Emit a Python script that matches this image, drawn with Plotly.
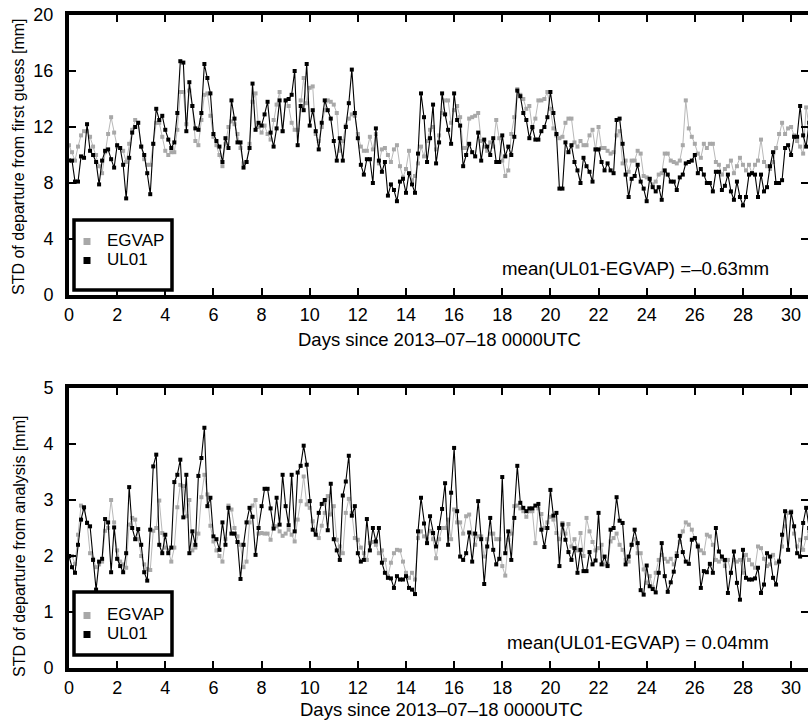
import plotly.graph_objects as go

# ---------------- data (3-hourly values, 8 per day) ----------------
samples_per_day = 8

fg_egvap = [
    10.7, 10.2, 9.6, 10.6, 11.4, 11.7, 11.7, 11.3,
    10.6, 10.0, 9.2, 8.7, 10.2, 11.5, 12.7, 11.6,
    10.6, 10.5, 10.3, 9.5, 10.8, 11.8, 12.5, 12.3,
    10.6, 9.7, 9.3, 9.3, 10.8, 12.3, 12.3, 11.3,
    10.3, 10.0, 10.2, 10.2, 11.8, 14.5, 14.5, 12.2,
    14.6, 13.5, 11.0, 10.7, 12.5, 14.3, 14.4, 12.8,
    11.3, 10.7, 10.0, 9.2, 10.8, 12.0, 12.4, 12.2,
    11.5, 10.5, 9.4, 9.5, 10.8, 13.8, 14.4, 12.0,
    11.6, 12.1, 11.5, 11.1, 12.5, 13.6, 14.5, 11.7,
    13.9, 13.5, 12.3, 11.8, 11.8, 13.9, 15.5, 13.7,
    14.8, 14.9, 11.5, 11.0, 12.0, 13.2, 13.9, 13.8,
    13.6, 13.0, 10.3, 11.0, 12.1, 12.6, 12.9, 12.8,
    11.5, 10.6, 10.3, 10.3, 11.3, 10.4, 11.5, 9.4,
    10.4, 10.5, 10.0, 9.5, 10.4, 10.7, 9.2, 8.4,
    9.0, 10.3, 8.2, 8.5, 9.4, 10.6, 9.9, 11.0,
    11.8, 12.0, 10.4, 11.4, 13.0, 13.9, 13.9, 12.3,
    13.2, 13.5, 12.7, 10.5, 10.5, 12.6, 12.7, 12.8,
    13.0, 11.0, 10.6, 10.3, 10.9, 10.6, 12.5, 11.2,
    9.6, 8.5, 8.9, 11.5, 12.7, 14.7, 14.3, 14.0,
    13.3, 13.5, 11.9, 12.6, 13.9, 13.9, 14.0, 14.5,
    13.3, 11.9, 11.4, 11.2, 11.3, 12.3, 12.6, 12.6,
    10.9, 10.6, 11.0, 10.7, 10.7, 11.4, 11.8, 10.4,
    12.0, 10.5, 10.5, 10.3, 10.1, 10.2, 11.4, 11.7,
    9.4, 9.6, 8.8, 9.6, 9.6, 10.3, 10.1, 8.5,
    8.4, 8.3, 7.9, 8.1, 8.6, 8.7, 10.1, 10.1,
    9.6, 9.5, 9.4, 9.6, 10.7, 13.9, 11.9, 11.3,
    10.8, 10.1, 9.8, 10.8, 10.5, 10.8, 10.8, 9.5,
    9.3, 8.6, 9.0, 9.2, 9.6, 8.7, 9.2, 9.8,
    9.3, 8.9, 9.3, 8.7, 9.3, 9.6, 11.1, 9.5,
    9.2, 9.0, 9.5, 10.5, 11.5, 12.3, 11.5, 11.9,
    12.0, 11.4, 11.0, 10.6, 10.1, 13.4, 12.0, 12.5,
]

fg_ul01 = [
    9.6, 9.6, 8.1, 8.1, 9.9, 9.8, 12.2, 10.3,
    10.0, 9.5, 7.9, 9.6, 10.3, 10.4, 9.7, 9.1,
    10.7, 10.5, 9.3, 6.9, 9.8, 11.6, 12.0, 12.3,
    10.6, 10.0, 8.7, 7.2, 10.8, 13.3, 12.5, 12.8,
    11.8, 11.1, 10.5, 10.9, 13.0, 16.7, 16.6, 11.7,
    15.2, 13.5, 11.9, 11.8, 13.0, 16.5, 15.5, 14.4,
    11.5, 11.0, 10.6, 9.5, 11.2, 10.5, 13.9, 12.6,
    10.9, 10.9, 9.1, 9.5, 10.5, 15.1, 11.8, 12.3,
    12.1, 12.9, 13.8, 11.6, 10.6, 11.9, 13.9, 11.7,
    13.9, 14.0, 14.3, 16.0, 10.7, 13.5, 13.2, 16.5,
    12.1, 13.2, 11.7, 10.4, 12.3, 13.9, 13.2, 12.6,
    11.0, 9.6, 11.2, 9.6, 12.0, 13.7, 16.1, 13.0,
    11.2, 9.3, 8.6, 9.7, 9.7, 8.0, 11.9, 9.6,
    8.8, 9.5, 7.1, 7.9, 7.5, 6.7, 8.1, 8.3,
    7.3, 8.7, 7.9, 7.3, 10.1, 14.4, 12.7, 9.5,
    11.2, 13.6, 9.4, 10.9, 14.4, 12.9, 11.8, 10.8,
    14.4, 12.5, 12.1, 9.2, 10.0, 10.8, 10.2, 9.9,
    11.6, 9.6, 11.1, 10.6, 10.0, 11.2, 9.5, 9.5,
    11.4, 9.9, 10.6, 10.0, 11.3, 14.6, 14.2, 13.0,
    12.5, 11.2, 12.0, 11.1, 11.1, 11.7, 12.0, 12.7,
    14.5, 13.0, 11.5, 7.6, 7.6, 10.9, 10.2, 10.7,
    9.5, 8.9, 8.0, 9.8, 9.2, 8.8, 8.1, 10.4,
    10.4, 9.5, 8.9, 9.4, 8.9, 8.7, 12.5, 12.6,
    10.8, 8.6, 7.0, 8.3, 8.5, 9.3, 8.1, 7.6,
    6.7, 8.3, 7.7, 7.4, 7.7, 6.8, 8.9, 8.6,
    8.1, 8.1, 7.5, 8.4, 8.6, 9.4, 9.5, 9.6,
    10.0, 8.7, 9.0, 8.6, 8.0, 8.0, 7.4, 8.8,
    8.8, 7.5, 7.8, 8.6, 7.4, 6.8, 8.1, 7.0,
    6.4, 7.0, 8.6, 8.7, 8.6, 7.0, 8.6, 7.4,
    7.7, 9.2, 10.2, 8.0, 8.0, 8.2, 10.5, 10.7,
    10.0, 11.3, 11.3, 13.5, 11.4, 10.6, 12.3, 13.0,
]

an_egvap = [
    2.0, 2.0, 1.86, 2.38, 2.9, 2.85, 2.6, 2.05,
    1.95, 1.8, 1.85, 1.9, 2.45, 2.5, 3.0, 2.6,
    2.1, 1.9, 1.85, 1.79, 2.56, 2.68, 2.65, 2.3,
    2.0, 1.85, 1.77, 1.75, 2.45, 2.5, 2.99, 2.41,
    2.15, 2.1, 1.9, 2.15, 2.87, 3.27, 3.25, 2.71,
    3.0, 2.1, 2.15, 2.4, 3.05, 3.45, 3.1, 2.54,
    2.26, 2.1, 2.0, 1.9, 2.3, 2.9, 2.83, 2.5,
    2.35, 2.2, 1.8, 1.9, 2.6, 2.9, 3.0, 2.4,
    2.41, 2.4, 2.4, 2.29, 2.53, 2.53, 2.44, 2.36,
    2.4, 2.47, 2.38, 2.26, 2.65, 2.98, 3.42, 2.92,
    2.86, 2.62, 2.44, 2.32, 2.54, 2.77, 3.07, 2.74,
    2.89, 2.29, 2.17, 2.05, 2.77, 3.02, 2.77, 2.32,
    2.29, 2.15, 2.05, 1.93, 2.23, 2.25, 2.2, 2.05,
    2.1, 1.93, 1.64, 1.88, 2.05, 2.11, 2.1, 1.9,
    1.7, 1.61, 1.7, 1.58, 2.32, 2.44, 2.35, 2.3,
    2.45, 2.3, 1.96, 2.3, 2.5, 2.5, 2.65, 2.3,
    2.83, 2.6, 2.6, 2.4, 2.71, 2.74, 2.4, 2.2,
    2.35, 2.35, 1.99, 2.3, 2.4, 2.4, 2.3, 2.3,
    1.82, 1.65, 2.29, 2.4, 2.89, 2.9, 2.85, 2.8,
    2.7, 2.8, 2.8, 2.23, 2.85, 2.75, 2.5, 2.6,
    2.7, 2.65, 2.41, 2.3, 2.59, 2.4, 2.57, 2.17,
    2.3, 2.1, 2.41, 2.0, 2.68, 2.44, 2.25, 2.1,
    2.14, 2.2, 1.85, 1.85, 2.26, 2.32, 2.4, 2.2,
    2.11, 1.93, 1.9, 2.2, 2.3, 2.05, 2.05, 1.76,
    1.52, 1.64, 1.44, 1.7, 1.93, 2.02, 1.95, 1.9,
    1.95, 1.85, 2.05, 2.25, 2.44, 2.6, 2.56, 2.47,
    2.31, 2.2, 2.1, 2.05, 2.38, 2.35, 2.2, 1.93,
    1.9, 1.95, 1.82, 1.93, 1.7, 1.93, 1.9, 1.93,
    1.7, 2.02, 1.93, 1.85, 1.79, 2.17, 2.14, 1.95,
    1.82, 1.85, 2.02, 1.87, 1.92, 2.17, 2.53, 2.77,
    2.8, 2.4, 2.17, 2.29, 2.11, 2.32, 2.44, 2.5,
]

an_ul01 = [
    2.0, 1.8, 1.7, 2.2, 2.65, 2.87, 2.59, 2.53,
    1.93, 1.40, 1.9, 1.95, 2.66, 2.6, 1.71, 2.51,
    1.95, 1.82, 1.71, 2.05, 3.23, 2.5, 2.3, 2.48,
    2.2, 1.71, 1.56, 2.47, 3.6, 3.81, 2.2, 2.05,
    2.38, 2.05, 2.15, 3.32, 3.45, 3.72, 2.69, 3.45,
    2.05, 2.44, 2.2, 3.43, 3.75, 4.29, 2.89, 3.04,
    2.35, 2.3, 2.11, 2.6, 2.2, 2.86, 2.4, 2.4,
    2.25, 1.59, 2.2, 2.6, 2.86, 2.7, 2.02, 2.5,
    2.89, 3.2, 3.2, 2.85, 2.49, 3.04, 2.56, 3.45,
    2.89, 2.55, 3.45, 2.44, 3.49, 3.61, 3.97, 3.63,
    2.98, 2.47, 2.38, 2.77, 2.93, 3.0, 2.46, 3.29,
    2.3, 2.1, 1.93, 3.08, 3.33, 3.79, 2.72, 2.89,
    2.05, 1.9, 1.93, 2.66, 2.1, 2.5, 2.26, 2.5,
    1.88, 1.7, 1.61, 1.6, 1.43, 1.64, 1.58, 1.58,
    1.64, 1.43, 1.4, 1.32, 2.44, 3.04, 2.58, 2.23,
    2.71, 2.41, 2.17, 2.5, 2.84, 3.3, 2.2, 3.13,
    3.93, 2.8, 1.99, 1.93, 2.05, 2.42, 1.9, 2.4,
    2.98, 2.3, 1.5, 2.17, 2.68, 2.11, 1.85, 1.95,
    3.41, 2.05, 2.44, 1.93, 2.68, 3.61, 2.95, 2.86,
    2.8, 2.85, 2.85, 2.9, 2.93, 2.47, 2.16, 2.5,
    3.18, 2.72, 2.77, 1.82, 2.56, 2.29, 2.07, 1.93,
    2.14, 1.7, 2.11, 1.73, 1.73, 2.07, 1.85, 1.92,
    2.77, 1.85, 1.99, 1.82, 2.47, 2.5, 3.05, 2.63,
    2.59, 1.85, 1.99, 2.2, 2.47, 2.23, 1.39, 1.31,
    1.83, 1.46, 1.41, 1.35, 1.7, 2.23, 1.64, 1.36,
    1.53, 1.72, 2.0, 2.36, 2.07, 1.9, 1.86, 2.29,
    2.32, 2.17, 1.43, 1.73, 1.71, 1.86, 1.7, 2.5,
    2.08, 1.99, 1.93, 1.34, 1.7, 2.08, 1.52, 1.22,
    2.11, 1.61, 1.58, 1.58, 1.6, 1.79, 1.34, 1.49,
    2.05, 1.99, 1.61, 1.49, 1.9, 2.38, 2.8, 2.11,
    2.78, 2.53, 2.05, 1.99, 2.59, 2.86, 2.5, 2.7,
]

series_names = ["EGVAP", "UL01"]
x_tickvals = list(range(0, 32, 2))
fg_tickvals = [0, 4, 8, 12, 16, 20]
an_tickvals = [0, 1, 2, 3, 4, 5]
x_title = "Days since 2013\u201307\u201318 0000UTC"
fg_title = "STD of departure from first guess [mm]"
an_title = "STD of departure from analysis [mm]"
fg_mean_text = "mean(UL01-EGVAP) =\u20130.63mm"
an_mean_text = "mean(UL01-EGVAP) = 0.04mm"

n = min(len(fg_egvap), len(fg_ul01), len(an_egvap), len(an_ul01))
days = [i / samples_per_day for i in range(n)]

# ---------------- layout geometry (page pixels, body margin removed) ----------------
W, H = 808, 727
PLOT_L, PLOT_T, PLOT_B = 69, 15, 668
L, T, R = PLOT_L, PLOT_T, 0
B = H - PLOT_B
PW, PH = W - L - R, H - T - B
px_per_day = 24.07


def pxx(px):
    return (px - PLOT_L) / PW


def pxy(py):
    return (PLOT_B - py) / PH


FONT = "Liberation Sans, Arial, Helvetica, sans-serif"
GRAY_LINE = "#b8b8b8"
GRAY_MARK = "#a8a8a8"
BLACK = "#000000"

fig = go.Figure()

panels = [
    ("x", "y", fg_egvap, fg_ul01, "legend"),
    ("x2", "y2", an_egvap, an_ul01, "legend2"),
]
for xa, ya, eg, ul, lg in panels:
    fig.add_trace(go.Scatter(
        x=days, y=eg[:n], mode="lines+markers", xaxis=xa, yaxis=ya,
        line=dict(color=GRAY_LINE, width=1),
        marker=dict(color=GRAY_MARK, size=4, symbol="square"),
        showlegend=False, name=series_names[0]))
    fig.add_trace(go.Scatter(
        x=days, y=ul[:n], mode="lines+markers", xaxis=xa, yaxis=ya,
        line=dict(color=BLACK, width=1.1),
        marker=dict(color=BLACK, size=4, symbol="square"),
        showlegend=False, name=series_names[1]))
    # legend entries (square symbols only)
    for nm, col in zip(series_names, [GRAY_MARK, BLACK]):
        fig.add_trace(go.Scatter(
            x=[None], y=[None], mode="markers", xaxis=xa, yaxis=ya,
            marker=dict(color=col, size=7, symbol="square"),
            name='<span style="font-size:17px">' + nm + '</span>',
            legend=lg, legendgroup=lg, showlegend=True))

top_dom = [pxy(295), 1.0]
bot_dom = [0.0, pxy(388)]
xr = [0, PW / px_per_day]

axis_common = dict(
    showline=True, linewidth=4, linecolor=BLACK, mirror="ticks",
    ticks="inside", ticklen=7, tickwidth=2, tickcolor=BLACK,
    showgrid=False, zeroline=False, ticklabeloverflow="allow",
    tickfont=dict(size=18, color=BLACK, family=FONT),
)

legend_common = dict(
    xanchor="left", yanchor="top", bgcolor="rgba(0,0,0,0)", borderwidth=0,
    itemwidth=30, tracegroupgap=0, traceorder="normal",
    font=dict(size=12, color=BLACK, family=FONT),
)

fig.update_layout(
    width=W, height=H,
    margin=dict(l=L, r=R, t=T, b=B, autoexpand=False),
    paper_bgcolor="white", plot_bgcolor="white",
    font=dict(family=FONT, color=BLACK),
    xaxis=dict(domain=[0, 1], range=xr, tickvals=x_tickvals, anchor="y", **axis_common),
    yaxis=dict(domain=top_dom, range=[0, 20], tickvals=fg_tickvals, anchor="x",
               ticklabelstandoff=8, **axis_common),
    xaxis2=dict(domain=[0, 1], range=xr, tickvals=x_tickvals, anchor="y2", **axis_common),
    yaxis2=dict(domain=bot_dom, range=[0, 5], tickvals=an_tickvals, anchor="x2",
                ticklabelstandoff=8, **axis_common),
    legend=dict(x=pxx(67), y=pxy(227), **legend_common),
    legend2=dict(x=pxx(67), y=pxy(601), **legend_common),
    showlegend=True,
)

# legend frames
for y0, y1 in [(290, 220), (655, 592)]:
    fig.add_shape(type="rect", xref="paper", yref="paper",
                  x0=pxx(74), x1=pxx(172), y0=pxy(y0), y1=pxy(y1),
                  line=dict(color=BLACK, width=3.5), fillcolor="white", layer="above")

# annotations: titles and mean texts
ann = [
    dict(text=x_title, x=pxx(439), y=pxy(339), size=18.5, angle=0),
    dict(text=x_title, x=pxx(441), y=pxy(709), size=18.5, angle=0),
    dict(text=fg_title, x=pxx(19), y=pxy(157), size=16, angle=-90),
    dict(text=an_title, x=pxx(19), y=pxy(547), size=16, angle=-90),
]
for a in ann:
    fig.add_annotation(text=a["text"], xref="paper", yref="paper", x=a["x"], y=a["y"],
                       xanchor="center", yanchor="middle", showarrow=False,
                       textangle=a["angle"], font=dict(size=a["size"], color=BLACK, family=FONT))

for txt, py in [(fg_mean_text, 268), (an_mean_text, 642)]:
    fig.add_annotation(text=txt, xref="paper", yref="paper", x=pxx(771), y=pxy(py),
                       xanchor="right", yanchor="middle", showarrow=False,
                       font=dict(size=18.7, color=BLACK, family=FONT))

# remove the default 8px page margin so the figure fills the window exactly
fig.write_html("out.html", config={"displayModeBar": False},
               post_script="document.body.style.margin='0px';")
